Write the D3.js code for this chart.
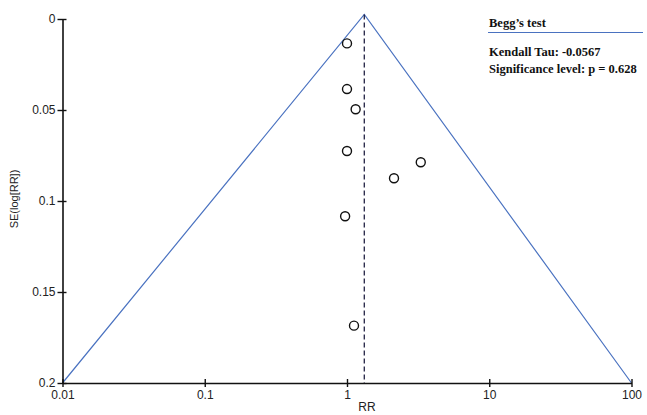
<!DOCTYPE html>
<html>
<head>
<meta charset="utf-8">
<script src="https://cdn.jsdelivr.net/npm/d3@7"></script>
<style>
  body { margin: 0; background: #fff; }
  svg { display: block; }
</style>
</head>
<body>
<div class="canvas"></div>
<script>
// study estimates
const rrValues = [1.0, 1.0, 1.15, 1.0, 3.30, 2.14, 0.97, 1.12];
const seValues = [0.0134, 0.0385, 0.0496, 0.0725, 0.0787, 0.0875, 0.1084, 0.1685];
const pooledRR = 1.323;
const apexSE = -0.0025;
const xTicks = [0.01, 0.1, 1, 10, 100];
const yTicks = [0, 0.05, 0.1, 0.15, 0.2];
const xLabels = ['0.01', '0.1', '1', '10', '100'];
const yLabels = ['0', '0.05', '0.1', '0.15', '0.2'];
const legendLines = ["Begg\u2019s test", 'Kendall Tau: -0.0567', 'Significance level: p = 0.628'];

const width = 647, height = 415;
const margin = { top: 19, right: 15.5, bottom: 32, left: 62.5 };
const graphWidth = width - margin.left - margin.right;
const graphHeight = height - margin.top - margin.bottom;

const svg = d3.select('.canvas')
  .append('svg')
  .attr('width', width)
  .attr('height', height);

const graph = svg.append('g')
  .attr('transform', `translate(${margin.left}, ${margin.top})`);

const x = d3.scaleLog().domain([0.01, 100]).range([0, graphWidth]);
const y = d3.scaleLinear().domain([0, 0.2]).range([0, graphHeight]);

// funnel triangle
const triangle = [[0.01, 0.2], [pooledRR, apexSE], [100, 0.2]];
graph.append('path')
  .datum(triangle)
  .attr('fill', 'none')
  .attr('stroke', '#4a72c0')
  .attr('stroke-width', 1.2)
  .attr('d', d3.line().x(d => x(d[0])).y(d => y(d[1])));

// pooled estimate
graph.append('line')
  .attr('x1', x(pooledRR)).attr('x2', x(pooledRR))
  .attr('y1', y(apexSE)).attr('y2', y(0.2))
  .attr('stroke', '#222244')
  .attr('stroke-width', 1.3)
  .attr('stroke-dasharray', '5,3');

// axes
const xAxis = d3.axisBottom(x)
  .tickValues(xTicks)
  .tickSize(0)
  .tickPadding(0)
  .tickFormat((d, i) => xLabels[i]);
const yAxis = d3.axisLeft(y)
  .tickValues(yTicks)
  .tickSize(0)
  .tickFormat((d, i) => yLabels[i]);

const xAxisGroup = graph.append('g')
  .attr('transform', `translate(0, ${graphHeight})`)
  .call(xAxis);
const yAxisGroup = graph.append('g').call(yAxis);

[xAxisGroup, yAxisGroup].forEach(g => {
  g.select('.domain').attr('stroke', '#111').attr('stroke-width', 1.6);
  g.selectAll('text')
    .attr('font-family', 'Liberation Sans, Arial, sans-serif')
    .attr('font-size', 12)
    .attr('fill', '#222');
});
xAxisGroup.selectAll('.tick line')
  .attr('y1', -4).attr('y2', 4)
  .attr('stroke', '#111').attr('stroke-width', 1.4);
xAxisGroup.selectAll('.tick text').attr('y', 7).attr('dy', '0.71em');
yAxisGroup.selectAll('.tick line')
  .attr('x1', -5).attr('x2', 4)
  .attr('stroke', '#111').attr('stroke-width', 1.4);
yAxisGroup.selectAll('.tick text').attr('x', -7);

// study points
const points = rrValues.map((rr, i) => ({ rr: rr, se: seValues[i] }));
graph.selectAll('circle')
  .data(points)
  .enter()
  .append('circle')
  .attr('cx', d => x(d.rr))
  .attr('cy', d => y(d.se))
  .attr('r', 4.5)
  .attr('fill', '#fff')
  .attr('stroke', '#111')
  .attr('stroke-width', 1.4);

// axis titles
svg.append('text')
  .attr('x', 367)
  .attr('y', 411)
  .attr('text-anchor', 'middle')
  .attr('font-family', 'Liberation Sans, Arial, sans-serif')
  .attr('font-size', 12)
  .attr('fill', '#222')
  .text('RR');

svg.append('text')
  .attr('transform', 'translate(18, 199) rotate(-90)')
  .attr('text-anchor', 'middle')
  .attr('font-family', 'Liberation Sans, Arial, sans-serif')
  .attr('font-size', 11)
  .attr('fill', '#222')
  .text('SE(log[RR])');

// Begg's test box
const legend = svg.append('g').attr('transform', 'translate(489, 0)');
legend.selectAll('text')
  .data(legendLines)
  .enter()
  .append('text')
  .attr('x', 0)
  .attr('y', (d, i) => [27, 56, 73][i])
  .attr('font-family', 'Liberation Serif, Times New Roman, serif')
  .attr('font-weight', 'bold')
  .attr('font-size', 12.5)
  .attr('fill', '#111')
  .text(d => d);
legend.append('line')
  .attr('x1', -1).attr('x2', 154)
  .attr('y1', 32.5).attr('y2', 32.5)
  .attr('stroke', '#4a72c0')
  .attr('stroke-width', 1.2);
</script>
</body>
</html>
